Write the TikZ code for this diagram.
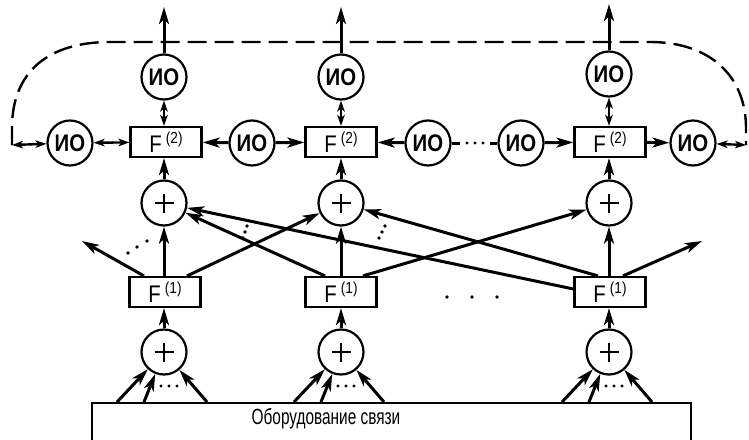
\documentclass[tikz,border=0pt]{standalone}
\usepackage{fontspec}
\setmainfont{Liberation Sans}[FakeStretch=0.85]
\newfontfamily\labelfont{Liberation Sans}[FakeStretch=0.7]
\usetikzlibrary{arrows.meta}
\newcommand\Flab[1]{F\hspace{4pt}\raisebox{8.5pt}{\fontsize{16}{16}\selectfont(#1)}}
\tikzset{
  tip/.tip={Stealth[length=17pt,width=10pt,inset=4.5pt]},
  smalltip/.tip={Stealth[length=11pt,width=7.5pt,inset=3pt]},
  io/.style={circle, draw, line width=2.2pt, minimum size=45pt, inner sep=0pt,
    font=\fontsize{24}{24}\selectfont\bfseries},
  sum/.style={circle, draw, line width=2.2pt, minimum size=45pt, inner sep=0pt,
    path picture={
      \draw[line width=1.5pt] ([xshift=-9.5pt]path picture bounding box.center) -- ++(19pt,0pt);
      \draw[line width=1.5pt] ([yshift=-9.5pt]path picture bounding box.center) -- ++(0pt,19pt);}},
  fbox/.style={draw, rectangle, line width=2.2pt, minimum width=71pt, minimum height=30pt,
    inner sep=0pt, font=\fontsize{24}{24}\selectfont},
  conn/.style={line width=3pt, -tip},
  link/.style={line width=3pt},
  dbl/.style={line width=2.4pt, smalltip-smalltip},
  dashline/.style={line width=2.4pt, dash pattern=on 19pt off 8pt},
  dotmark/.style={fill=black},
}
\begin{document}
\begin{tikzpicture}[x=1pt,y=-1pt]
\useasboundingbox (0,0) rectangle (749,439);
\clip (0,0) rectangle (749,439);

% ---- upper level: interface units and F(2) processors
\node[io] (ioTa) at (164,77) {ИО};
\node[io] (ioTb) at (341,77) {ИО};
\node[io] (ioTc) at (609,74) {ИО};
\node[fbox] (Fa) at (166,142) {\Flab{2}};
\node[fbox] (Fb) at (341,142) {\Flab{2}};
\node[fbox] (Fc) at (610,142) {\Flab{2}};
\node[io] (io1) at (70,143) {ИО};
\node[io] (io2) at (252,143) {ИО};
\node[io] (io3) at (428,143) {ИО};
\node[io] (io4) at (521,143) {ИО};
\node[io] (io5) at (693,143) {ИО};

% ---- adders and F(1) processors
\node[sum] (Sa) at (164,203) {};
\node[sum] (Sb) at (341,203) {};
\node[sum] (Sc) at (609,203) {};
\node[fbox] (Ga) at (165,292) {\Flab{1}};
\node[fbox] (Gb) at (341,292) {\Flab{1}};
\node[fbox] (Gc) at (610,292) {\Flab{1}};
\node[sum] (La) at (164,352) {};
\node[sum] (Lb) at (341,352) {};
\node[sum] (Lc) at (609,352) {};

% ---- communication equipment
\node[draw, line width=2.2pt, minimum width=599pt, minimum height=50pt, anchor=north west,
  inner sep=0pt] (base) at (91,402) {};
\node[font=\labelfont\fontsize{22}{22}\selectfont] (baseText) at (326,419) {Оборудование связи};

% ---- free ends
\coordinate (topA) at (164,7);
\coordinate (topB) at (341,7);
\coordinate (topC) at (609,4);
\coordinate (dl) at (12,145);
\coordinate (dr) at (746,145);
\coordinate (offL) at (82,241);
\coordinate (offR) at (702,241);
\coordinate (m1) at (460,143);
\coordinate (m2) at (490,143);

% outputs to the top
\draw[conn] (ioTa) -- (topA);
\draw[conn] (ioTb) -- (topB);
\draw[conn] (ioTc) -- (topC);

% ring closure
\draw[dashline] (dl) -- (12,128) .. controls (12,72) and (48,42) .. (110,42)
  -- (650,42) .. controls (712,42) and (746,78) .. (746,128) -- (dr);
\draw[dbl] (dl) -- (io1);
\draw[dbl] (io5) -- (dr);

% upper interface links
\draw[dbl] (ioTa) -- (ioTa |- Fa.north);
\draw[dbl] (ioTb) -- (ioTb |- Fb.north);
\draw[dbl] (ioTc) -- (ioTc |- Fc.north);
\draw[dbl] (io1) -- (Fa);
\draw[conn] (io2) -- (Fa);
\draw[conn] (io2) -- (Fb);
\draw[conn] (io3) -- (Fb);
\draw[link] (io3) -- (m1);
\draw[link] (m2) -- (io4);
\draw[conn] (io4) -- (Fc);
\draw[conn] (Fc) -- (io5);
\foreach \x in {467,475,483} \fill[dotmark] (\x,143) circle (1.7pt);

% adders into F(2)
\draw[conn] (Sa) -- (Sa |- Fa.south);
\draw[conn] (Sb) -- (Fb);
\draw[conn] (Sc) -- (Sc |- Fc.south);

% F(1) into the adders
\draw[conn] (Ga.north -| Sa) -- (Sa);
\draw[conn] (Gb) -- (Sb);
\draw[conn] (Gc.north -| Sc) -- (Sc);
\draw[conn] ([xshift=-21pt]Ga.north) -- (offL);
\draw[conn] ([xshift=22pt]Ga.north) -- (Sb);
\draw[conn] ([xshift=-16pt]Gb.north) -- (Sa);
\draw[conn] ([xshift=22pt]Gb.north) -- (Sc);
\draw[conn] ([yshift=3pt]Gc.west) -- (Sa);
\draw[conn] ([xshift=-12pt]Gc.north) -- (Sb);
\draw[conn] ([xshift=13pt]Gc.north) -- (offR);
\foreach \p in {(128,253),(137,247),(147,241),(247,226),(245,232),(243,238),
                (385,226),(382,232),(379,238),(447,297),(472,297),(497,297)}
  \fill[dotmark] \p circle (1.8pt);

% lower adders into F(1)
\draw[conn] (La) -- (La |- Ga.south);
\draw[conn] (Lb) -- (Gb);
\draw[conn] (Lc) -- (Lc |- Gc.south);

% inputs from the communication equipment
\foreach \c/\n in {164/La,341/Lb,609/Lc}{
  \coordinate (\n i1) at (\c-47,402);
  \coordinate (\n i2) at (\c-20,402);
  \coordinate (\n i3) at (\c+43,402);
  \draw[conn] (\n i1) -- (\n);
  \draw[conn] (\n i2) -- (\n);
  \draw[conn] (\n i3) -- (\n);
  \foreach \d in {-3,5,13} \fill[dotmark] (\c+\d,386) circle (1.6pt);
}
\end{tikzpicture}
\end{document}
